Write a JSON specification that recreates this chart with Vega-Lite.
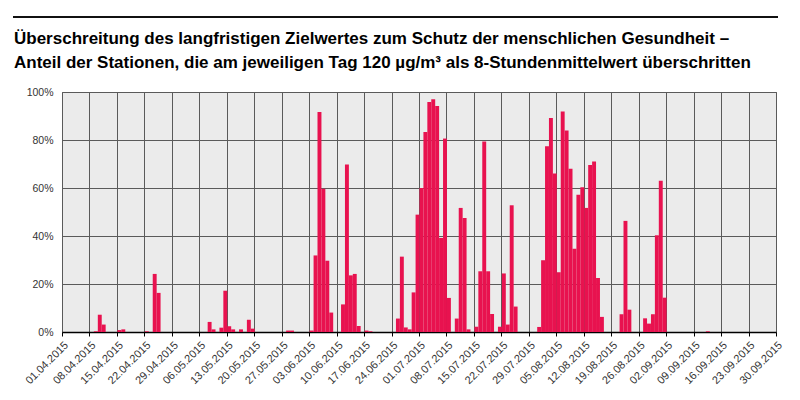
{
  "$schema": "https://vega.github.io/schema/vega-lite/v6.json",
  "width": 714,
  "height": 240,
  "autosize": "none",
  "padding": {"left": 62, "top": 92, "right": 24, "bottom": 68},
  "background": "white",
  "title": {
    "text": ["Überschreitung des langfristigen Zielwertes zum Schutz der menschlichen Gesundheit –", "Anteil der Stationen, die am jeweiligen Tag 120 µg/m³ als 8-Stundenmittelwert überschritten"],
    "anchor": "start",
    "frame": "group",
    "dx": -48,
    "dy": 70,
    "offset": 14,
    "font": "Liberation Sans",
    "fontSize": 17,
    "fontWeight": "bold",
    "lineHeight": 24,
    "color": "#000000"
  },
  "data": {
    "values": [
      {"date": "2015-04-09", "share": 0.003},
      {"date": "2015-04-10", "share": 0.072},
      {"date": "2015-04-11", "share": 0.031},
      {"date": "2015-04-15", "share": 0.008},
      {"date": "2015-04-16", "share": 0.011},
      {"date": "2015-04-22", "share": 0.003},
      {"date": "2015-04-24", "share": 0.242},
      {"date": "2015-04-25", "share": 0.163},
      {"date": "2015-05-08", "share": 0.042},
      {"date": "2015-05-09", "share": 0.011},
      {"date": "2015-05-11", "share": 0.018},
      {"date": "2015-05-12", "share": 0.172},
      {"date": "2015-05-13", "share": 0.024},
      {"date": "2015-05-14", "share": 0.011},
      {"date": "2015-05-16", "share": 0.011},
      {"date": "2015-05-18", "share": 0.051},
      {"date": "2015-05-19", "share": 0.014},
      {"date": "2015-05-28", "share": 0.006},
      {"date": "2015-05-29", "share": 0.006},
      {"date": "2015-06-03", "share": 0.006},
      {"date": "2015-06-04", "share": 0.319},
      {"date": "2015-06-05", "share": 0.917},
      {"date": "2015-06-06", "share": 0.597},
      {"date": "2015-06-07", "share": 0.297},
      {"date": "2015-06-08", "share": 0.081},
      {"date": "2015-06-11", "share": 0.115},
      {"date": "2015-06-12", "share": 0.698},
      {"date": "2015-06-13", "share": 0.236},
      {"date": "2015-06-14", "share": 0.242},
      {"date": "2015-06-15", "share": 0.025},
      {"date": "2015-06-17", "share": 0.006},
      {"date": "2015-06-18", "share": 0.003},
      {"date": "2015-06-25", "share": 0.056},
      {"date": "2015-06-26", "share": 0.314},
      {"date": "2015-06-27", "share": 0.019},
      {"date": "2015-06-28", "share": 0.011},
      {"date": "2015-06-29", "share": 0.165},
      {"date": "2015-06-30", "share": 0.489},
      {"date": "2015-07-01", "share": 0.600},
      {"date": "2015-07-02", "share": 0.833},
      {"date": "2015-07-03", "share": 0.958},
      {"date": "2015-07-04", "share": 0.970},
      {"date": "2015-07-05", "share": 0.942},
      {"date": "2015-07-06", "share": 0.392},
      {"date": "2015-07-07", "share": 0.806},
      {"date": "2015-07-08", "share": 0.142},
      {"date": "2015-07-10", "share": 0.056},
      {"date": "2015-07-11", "share": 0.517},
      {"date": "2015-07-12", "share": 0.475},
      {"date": "2015-07-13", "share": 0.011},
      {"date": "2015-07-15", "share": 0.022},
      {"date": "2015-07-16", "share": 0.253},
      {"date": "2015-07-17", "share": 0.794},
      {"date": "2015-07-18", "share": 0.253},
      {"date": "2015-07-19", "share": 0.075},
      {"date": "2015-07-21", "share": 0.022},
      {"date": "2015-07-22", "share": 0.244},
      {"date": "2015-07-23", "share": 0.031},
      {"date": "2015-07-24", "share": 0.528},
      {"date": "2015-07-25", "share": 0.106},
      {"date": "2015-07-31", "share": 0.021},
      {"date": "2015-08-01", "share": 0.299},
      {"date": "2015-08-02", "share": 0.774},
      {"date": "2015-08-03", "share": 0.892},
      {"date": "2015-08-04", "share": 0.660},
      {"date": "2015-08-05", "share": 0.249},
      {"date": "2015-08-06", "share": 0.919},
      {"date": "2015-08-07", "share": 0.840},
      {"date": "2015-08-08", "share": 0.680},
      {"date": "2015-08-09", "share": 0.347},
      {"date": "2015-08-10", "share": 0.572},
      {"date": "2015-08-11", "share": 0.603},
      {"date": "2015-08-12", "share": 0.517},
      {"date": "2015-08-13", "share": 0.696},
      {"date": "2015-08-14", "share": 0.710},
      {"date": "2015-08-15", "share": 0.225},
      {"date": "2015-08-16", "share": 0.063},
      {"date": "2015-08-21", "share": 0.074},
      {"date": "2015-08-22", "share": 0.463},
      {"date": "2015-08-23", "share": 0.093},
      {"date": "2015-08-27", "share": 0.057},
      {"date": "2015-08-28", "share": 0.035},
      {"date": "2015-08-29", "share": 0.074},
      {"date": "2015-08-30", "share": 0.403},
      {"date": "2015-08-31", "share": 0.630},
      {"date": "2015-09-01", "share": 0.143},
      {"date": "2015-09-12", "share": 0.003}
    ]
  },
  "layer": [
    {
      "mark": {"type": "bar", "color": "#e8124f", "binSpacing": 0},
      "encoding": {
        "x": {
          "field": "date",
          "type": "temporal",
          "timeUnit": "utcyearmonthdate",
          "scale": {
            "domain": [
              {"year": 2015, "month": 4, "date": 1, "utc": true},
              {"year": 2015, "month": 9, "date": 30, "utc": true}
            ]
          },
          "axis": {
            "title": null,
            "tickCount": 60,
            "values": [
              {"year": 2015, "month": 4, "date": 1, "utc": true},
              {"year": 2015, "month": 4, "date": 8, "utc": true},
              {"year": 2015, "month": 4, "date": 15, "utc": true},
              {"year": 2015, "month": 4, "date": 22, "utc": true},
              {"year": 2015, "month": 4, "date": 29, "utc": true},
              {"year": 2015, "month": 5, "date": 6, "utc": true},
              {"year": 2015, "month": 5, "date": 13, "utc": true},
              {"year": 2015, "month": 5, "date": 20, "utc": true},
              {"year": 2015, "month": 5, "date": 27, "utc": true},
              {"year": 2015, "month": 6, "date": 3, "utc": true},
              {"year": 2015, "month": 6, "date": 10, "utc": true},
              {"year": 2015, "month": 6, "date": 17, "utc": true},
              {"year": 2015, "month": 6, "date": 24, "utc": true},
              {"year": 2015, "month": 7, "date": 1, "utc": true},
              {"year": 2015, "month": 7, "date": 8, "utc": true},
              {"year": 2015, "month": 7, "date": 15, "utc": true},
              {"year": 2015, "month": 7, "date": 22, "utc": true},
              {"year": 2015, "month": 7, "date": 29, "utc": true},
              {"year": 2015, "month": 8, "date": 5, "utc": true},
              {"year": 2015, "month": 8, "date": 12, "utc": true},
              {"year": 2015, "month": 8, "date": 19, "utc": true},
              {"year": 2015, "month": 8, "date": 26, "utc": true},
              {"year": 2015, "month": 9, "date": 2, "utc": true},
              {"year": 2015, "month": 9, "date": 9, "utc": true},
              {"year": 2015, "month": 9, "date": 16, "utc": true},
              {"year": 2015, "month": 9, "date": 23, "utc": true},
              {"year": 2015, "month": 9, "date": 30, "utc": true}
            ],
            "labelExpr": "utcFormat(datum.value, '%d.%m.%Y')",
            "labelAngle": -45,
            "labelAlign": "right",
            "labelBaseline": "top",
            "labelFont": "Liberation Sans",
            "labelFontSize": 11,
            "labelColor": "#333333",
            "labelPadding": 3,
            "labelOverlap": false,
            "labelFlush": false,
            "grid": true,
            "gridColor": "#5a5a5a",
            "gridWidth": 1,
            "domainColor": "#000000",
            "domainWidth": 1.5,
            "tickColor": "#000000",
            "tickSize": 4,
            "tickWidth": 1
          }
        },
        "y": {
          "field": "share",
          "type": "quantitative",
          "scale": {"domain": [0, 1], "nice": false},
          "axis": {
            "title": null,
            "values": [0, 0.1, 0.2, 0.3, 0.4, 0.5, 0.6, 0.7, 0.8, 0.9, 1],
            "format": ".0%",
            "grid": true,
            "gridColor": "#5a5a5a",
            "gridWidth": 1,
            "domain": false,
            "ticks": false,
            "labelFont": "Liberation Sans",
            "labelFontSize": 10.5,
            "labelColor": "#333333",
            "labelPadding": 9
          }
        }
      }
    },
    {
      "mark": {"type": "rule", "color": "#111111", "strokeWidth": 2, "clip": false},
      "encoding": {
        "x": {"datum": {"year": 2015, "month": 3, "date": 19, "hours": 18, "utc": true}, "type": "temporal"},
        "x2": {"datum": {"year": 2015, "month": 9, "date": 30, "hours": 12, "utc": true}},
        "y": {"datum": 1.3125, "type": "quantitative"}
      }
    }
  ],
  "config": {
    "view": {"fill": "#ebebeb", "stroke": "#5a5a5a"}
  }
}
